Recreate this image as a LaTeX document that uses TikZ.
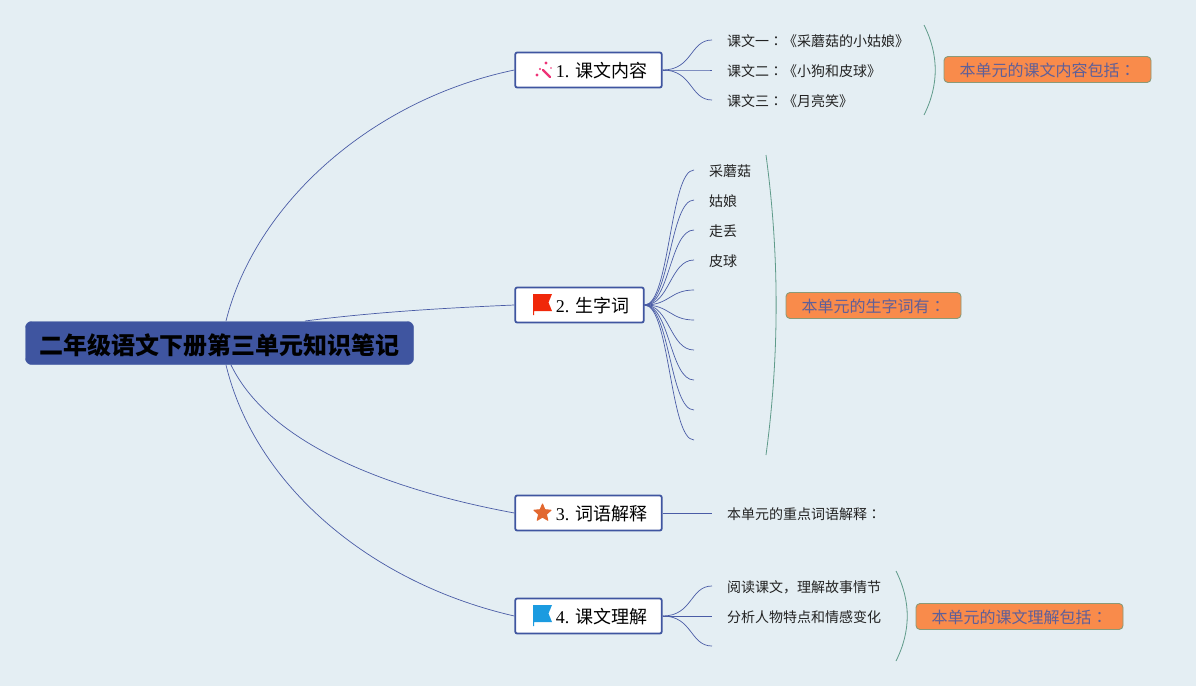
\documentclass[tikz,border=0pt]{standalone}
\usepackage{fontspec}
\setmainfont{Liberation Serif}
\newfontfamily\cjk{Noto Sans CJK SC}
\newfontfamily\cjkjp{Noto Sans CJK JP}
\usetikzlibrary{shapes.geometric, positioning}
\definecolor{bgcol}{HTML}{E4EEF3}
\definecolor{rootcol}{HTML}{3F55A0}
\definecolor{linecol}{HTML}{4A5CA6}
\definecolor{bracecol}{HTML}{5F9B8A}
\definecolor{notecol}{HTML}{F98B4B}
\definecolor{notetext}{HTML}{5F5F98}
\definecolor{noteline}{HTML}{8A9A78}
\definecolor{leaftext}{HTML}{222222}
\definecolor{flagred}{HTML}{F0280A}
\definecolor{flagblue}{HTML}{1B9BE0}
\definecolor{starcol}{HTML}{E2672F}
\definecolor{wandcol}{HTML}{EE3377}
\newcommand{\cc}{{\cjkjp ：}}
\newcommand{\lb}{{\cjkjp 《}}
\newcommand{\rb}{{\cjkjp 》}}
% flag icon, pole at x,y
\newcommand{\flagicon}[3]{
  \fill[#3] (#1,#2) -- (#1+19,#2) -- (#1+15.5,#2+8.5) -- (#1+19,#2+17) -- (#1+1,#2+17) -- (#1+1,#2+21) -- (#1,#2+21) -- cycle;
}

\begin{document}
\begin{tikzpicture}[
    x=1pt, y=-1pt,
    root/.style={rectangle, rounded corners=6pt, fill=rootcol, draw=rootcol, minimum width=388pt, minimum height=43pt, inner sep=0pt, text height=24pt, text depth=1.8pt, font=\cjk\bfseries\fontsize{24}{28}\selectfont},
    branch/.style={rectangle, rounded corners=2pt, draw=rootcol, line width=1.8pt, fill=white, minimum height=35pt, inner xsep=14.5pt, inner ysep=0pt, text height=18pt, text depth=2.3pt, font=\fontsize{18}{22}\selectfont},
    leaf/.style={anchor=west, inner xsep=15pt, inner ysep=0pt, text=leaftext, text height=14pt, text depth=1.4pt, font=\cjk\fontsize{14}{18}\selectfont},
    note/.style={rectangle, rounded corners=4pt, draw=noteline, line width=0.9pt, fill=notecol, text=notetext, minimum height=26pt, inner xsep=15.5pt, inner ysep=0pt, text height=16pt, text depth=2pt, font=\cjk\fontsize{16}{20}\selectfont},
    link/.style={draw=linecol, line width=0.7pt},
    brace/.style={draw=bracecol, line width=0.8pt}
]

% Background
\fill[bgcol] (0,0) rectangle (1196,686);

% Central topic
\node[root] (root) at (219.5,343) {二年级语文下册第三单元知识笔记};
\coordinate (rootA) at (226,321);
\coordinate (rootB) at (305,321);
\coordinate (rootC) at (231,365);
\coordinate (rootD) at (226,365);

% Main branches
\node[branch] (one) at (588.5,70) {\hspace{26pt}1. {\cjk 课文内容}};
\node[branch] (two) at (579.5,305) {\hspace{26pt}2. {\cjk 生字词}};
\node[branch] (three) at (588.5,513) {\hspace{26pt}3. {\cjk 词语解释}};
\node[branch] (four) at (588.5,616) {\hspace{26pt}4. {\cjk 课文理解}};

% Leaves of branch 1
\node[leaf] (oneA) at (712,40) {课文一\cc\lb 采蘑菇的小姑娘\rb};
\node[leaf] (oneB) at (712,70) {课文二\cc\lb 小狗和皮球\rb};
\node[leaf] (oneC) at (712,100) {课文三\cc\lb 月亮笑\rb};

% Leaves of branch 2
\node[leaf] (twoA) at (694,170) {采蘑菇};
\node[leaf] (twoB) at (694,200) {姑娘};
\node[leaf] (twoC) at (694,230) {走丢};
\node[leaf] (twoD) at (694,260) {皮球};
\foreach \name/\ypos in {twoE/290, twoF/320, twoG/350, twoH/380, twoI/410, twoJ/440}
  \coordinate (\name) at (694,\ypos);

% Leaves of branches 3 and 4
\node[leaf] (threeA) at (712,513) {本单元的重点词语解释\cc};
\node[leaf] (fourA) at (712,586) {阅读课文，理解故事情节};
\node[leaf] (fourB) at (712,616) {分析人物特点和情感变化};
\coordinate (fourC) at (712,646);

% Summary notes
\node[note] (noteOne) at (1047.5,69.5) {本单元的课文内容包括\cc};
\node[note] (noteTwo) at (873.5,305.5) {本单元的生字词有\cc};
\node[note] (noteFour) at (1019.5,616.5) {本单元的课文理解包括\cc};

% Brace ends
\coordinate (braceOneA) at (924,25);
\coordinate (braceOneB) at (924,115);
\coordinate (braceTwoA) at (766,155);
\coordinate (braceTwoB) at (766,455);
\coordinate (braceFourA) at (896,571);
\coordinate (braceFourB) at (896,661);

% Root to branches
\draw[link] (rootA) .. controls (255,205) and (370,100) .. (one.west);
\draw[link] (rootB) .. controls (375,312) and (445,308) .. (two.west);
\draw[link] (rootC) .. controls (270,445) and (390,490) .. (three.west);
\draw[link] (rootD) .. controls (255,485) and (370,583) .. (four.west);

% Branches to leaves
\foreach \leaf in {oneA, oneB, oneC}
  \draw[link] (one.east) .. controls +(30,0) and +(-22,0) .. (\leaf.west);
\foreach \leaf in {twoA, twoB, twoC, twoD}
  \draw[link] (two.east) .. controls +(25,0) and +(-24,0) .. (\leaf.west);
\foreach \leaf in {twoE, twoF, twoG, twoH, twoI, twoJ}
  \draw[link] (two.east) .. controls +(25,0) and +(-24,0) .. (\leaf);
\draw[link] (three.east) -- (threeA.west);
\foreach \leaf in {fourA, fourB}
  \draw[link] (four.east) .. controls +(30,0) and +(-22,0) .. (\leaf.west);
\draw[link] (four.east) .. controls +(30,0) and +(-22,0) .. (fourC);

% Braces
\draw[brace] (braceOneA) .. controls +(15,30) and +(15,-30) .. (braceOneB);
\draw[brace] (braceTwoA) .. controls +(13.5,100) and +(13.5,-100) .. (braceTwoB);
\draw[brace] (braceFourA) .. controls +(15,30) and +(15,-30) .. (braceFourB);

% Icons
\flagicon{533}{294}{flagred}
\flagicon{533}{605}{flagblue}
\node[star, star points=5, star point ratio=2.2, fill=starcol, draw=starcol, line width=1pt, line join=round, inner sep=0pt, minimum size=18pt] (starIcon) at (542.5,513) {};
\draw[wandcol, line width=2.4pt, line cap=round] (543,70) -- (550,77);
\fill[wandcol] (546,63) circle (1.6) (537,75) circle (1.6) (540,69) circle (1.1) (551,68) circle (0.8);

\end{tikzpicture}
\end{document}
